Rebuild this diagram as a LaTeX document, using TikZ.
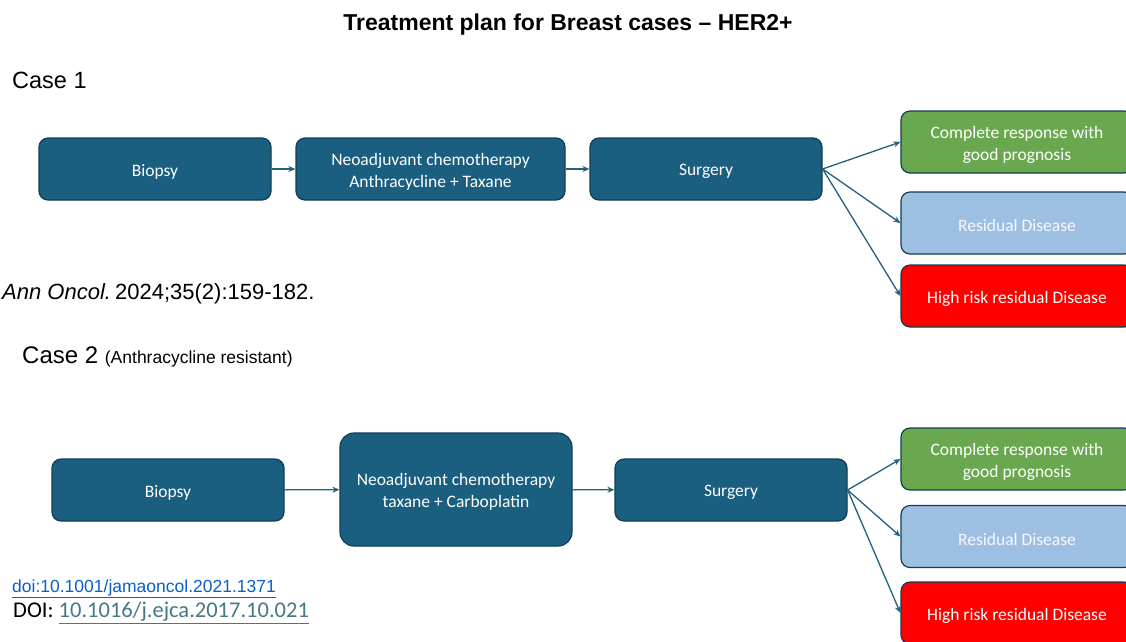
\documentclass[tikz,border=0pt]{standalone}
\usepackage{fontspec}
\setmainfont{Carlito}
\newfontfamily\arialfont[Ligatures=TeX]{Liberation Sans}
\usetikzlibrary{arrows.meta}
\definecolor{boxblue}{HTML}{1A5E80}
\definecolor{boxedge}{HTML}{103E54}
\definecolor{okgreen}{HTML}{6AA84F}
\definecolor{resblue}{HTML}{9DC0E2}
\definecolor{riskred}{HTML}{FF0000}
\definecolor{linkblue}{HTML}{0B5FCC}
\definecolor{linkteal}{HTML}{467886}
\definecolor{arrowcol}{HTML}{21627F}
\tikzset{
  stagebox/.style={draw=boxedge, line width=1.2pt, rounded corners=9pt, fill=boxblue,
    minimum width=232pt, minimum height=62pt, inner sep=0pt},
  boxtext/.style={text=white, align=center, inner sep=0pt, yshift=-2.5pt,
    font=\fontsize{17.5}{22}\selectfont},
  goodbox/.style={stagebox, fill=okgreen},
  resbox/.style={stagebox, fill=resblue},
  restext/.style={boxtext, text=white!97!blue},
  riskbox/.style={stagebox, fill=riskred},
  flow/.style={draw=arrowcol, line width=1.3pt, -{Stealth[length=7pt,width=6pt]}},
  plaintext/.style={anchor=west, inner sep=0pt, text=black}
}
\begin{document}
\begin{tikzpicture}[x=1pt,y=-1pt]
\useasboundingbox (0,0) rectangle (1126,641);
\clip (0,0) rectangle (1126,641);
\fill[white] (0,0) rectangle (1126,641);

% heading and case labels
\node[inner sep=0pt] (title) at (568,24.5) {\arialfont\bfseries\fontsize{23}{26}\selectfont Treatment plan for Breast cases – HER2+};
\node[plaintext] (case1) at (12,80.5) {\arialfont\fontsize{23.5}{26}\selectfont Case 1};
\node[plaintext] (ref1) at (2,294) {\arialfont\fontsize{22}{26}\selectfont\textit{Ann Oncol.}\kern-2pt\ 2024;35(2):159-182.};
\node[plaintext] (case2) at (22,357) {\arialfont\fontsize{24}{27}\selectfont Case 2 {\fontsize{17.5}{20}\selectfont (Anthracycline resistant)}};

% case 1 pathway
\node[stagebox, label={[boxtext]center:Biopsy}] (b1) at (155,169) {};
\node[stagebox, minimum width=269pt, label={[boxtext]center:{Neoadjuvant chemotherapy\\Anthracycline + Taxane}}] (n1) at (430.5,169) {};
\node[stagebox, label={[boxtext]center:Surgery}] (s1) at (706,169) {};
\node[goodbox, label={[boxtext]center:{Complete response with\\good prognosis}}] (g1) at (1017,142) {};
\node[resbox, label={[restext]center:Residual Disease}] (r1) at (1017,223) {};
\node[riskbox, label={[boxtext]center:High risk residual Disease}] (h1) at (1017,296) {};
\draw[flow] (b1) -- (n1);
\draw[flow] (n1) -- (s1);
\draw[flow] (s1.east) -- (g1.west);
\draw[flow] (s1.east) -- (r1.west);
\draw[flow] (s1.east) -- (h1.west);

% case 2 pathway
\node[stagebox, label={[boxtext]center:Biopsy}] (b2) at (168,490) {};
\node[stagebox, minimum height=113pt, rounded corners=14pt, label={[boxtext]center:{Neoadjuvant chemotherapy\\taxane + Carboplatin}}] (n2) at (456,489.5) {};
\node[stagebox, label={[boxtext]center:Surgery}] (s2) at (731,490) {};
\node[goodbox, label={[boxtext]center:{Complete response with\\good prognosis}}] (g2) at (1017,459) {};
\node[resbox, label={[restext]center:Residual Disease}] (r2) at (1017,536.5) {};
\node[riskbox, label={[boxtext]center:High risk residual Disease}] (h2) at (1017,613) {};
\draw[flow] (b2) -- (n2);
\draw[flow] (n2) -- (s2);
\draw[flow] (s2.east) -- (g2.west);
\draw[flow] (s2.east) -- (r2.west);
\draw[flow] (s2.east) -- (h2.west);

% references
\node[plaintext] (doi1) at (12,589) {\arialfont\fontsize{17.5}{20}\selectfont\color{linkblue}\underline{doi:10.1001/jamaoncol.2021.1371}};
\node[plaintext] (doi2) at (13,613) {\fontsize{22.5}{26}\selectfont DOI: {\color{linkteal}\underline{10.1016/j.ejca.2017.10.021}}};
\end{tikzpicture}
\end{document}
